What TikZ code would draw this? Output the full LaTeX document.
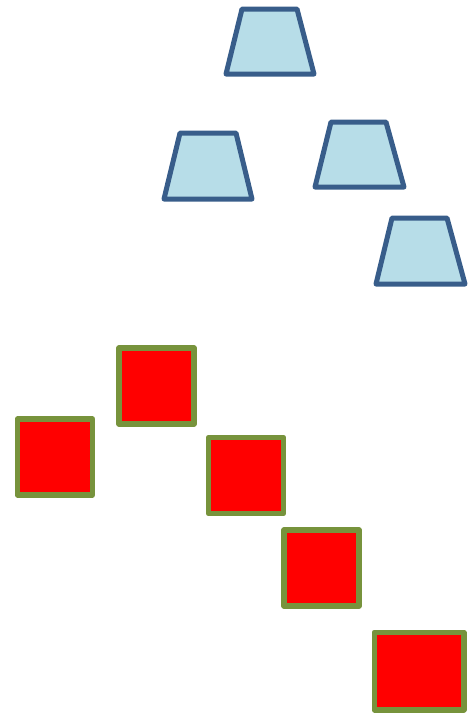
\documentclass[tikz,border=0pt]{standalone}
\usepackage{tikz}
\usepackage{xcolor}
\definecolor{trapfill}{RGB}{183,221,232}
\definecolor{trapline}{RGB}{56,93,138}
\definecolor{boxfill}{RGB}{255,0,0}
\definecolor{boxline}{RGB}{119,147,60}

\begin{document}
\begin{tikzpicture}[
    x=1pt, y=-1pt,
    trap/.style={draw=trapline, fill=trapfill, line width=5pt, line join=round},
    redbox/.style={shape=rectangle, draw=boxline, fill=boxfill, line width=5.5pt,
                   line join=round, minimum width=75pt, minimum height=76pt,
                   inner sep=0pt},
]

\useasboundingbox (0,0) rectangle (473,713);

% ---- Trapezoids ----
\draw[trap] (226,74) -- (242,9) -- (297,9) -- (314,74) -- cycle;
\draw[trap] (164,199) -- (180,133) -- (236,133) -- (252,199) -- cycle;
\draw[trap] (315,187) -- (331,122) -- (386,122) -- (404,187) -- cycle;
\draw[trap] (376,284) -- (392,218) -- (447,218) -- (465,284) -- cycle;

% ---- Squares ----
\node[redbox] (b1) at (156.5,386) {};
\node[redbox] (b2) at (55,457) {};
\node[redbox] (b3) at (246,475.5) {};
\node[redbox] (b4) at (321.5,568) {};
\node[redbox, minimum width=89.5pt, minimum height=77.5pt] (b5) at (419,671) {};

\end{tikzpicture}
\end{document}
